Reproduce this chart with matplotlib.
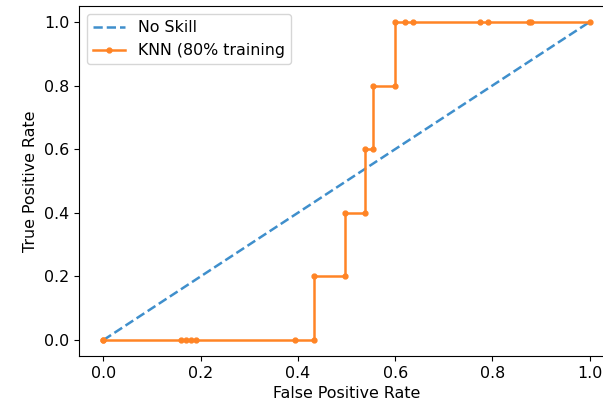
import matplotlib
matplotlib.use("Agg")
import matplotlib.pyplot as plt

# no-skill reference line
ns_fpr = [0, 1]
ns_tpr = [0, 1]

# KNN ROC curve points
knn_fpr = [0.0, 0.0, 0.16, 0.17, 0.18, 0.19, 0.395, 0.433, 0.433, 0.497, 0.497,
           0.538, 0.538, 0.555, 0.555, 0.60, 0.60, 0.62, 0.637, 0.774, 0.79,
           0.875, 0.88, 1.0]
knn_tpr = [0.0, 0.0, 0.0, 0.0, 0.0, 0.0, 0.0, 0.0, 0.2, 0.2, 0.4,
           0.4, 0.6, 0.6, 0.8, 0.8, 1.0, 1.0, 1.0, 1.0, 1.0,
           1.0, 1.0, 1.0]

fig = plt.figure(figsize=(6.03, 4.11), dpi=100)
ax = fig.add_axes([79 / 603, 55 / 411, 535 / 603, 350 / 411])

ax.plot(ns_fpr, ns_tpr, linestyle='--', label='No Skill', lw=1.8, color='#3f8fcc')
ax.plot(knn_fpr, knn_tpr, marker='.', label='KNN (80% training', lw=1.8,
        markersize=7, color='#ff8425')

ax.set_xlabel('False Positive Rate', fontsize=11.4)
ax.set_ylabel('True Positive Rate', fontsize=11.4)
ax.tick_params(labelsize=11.4)
ax.legend(loc='upper left', fontsize=11.4)
# right edge of the axes falls outside the picture
ax.spines['right'].set_visible(False)

fig.savefig('out.png', dpi=100)
